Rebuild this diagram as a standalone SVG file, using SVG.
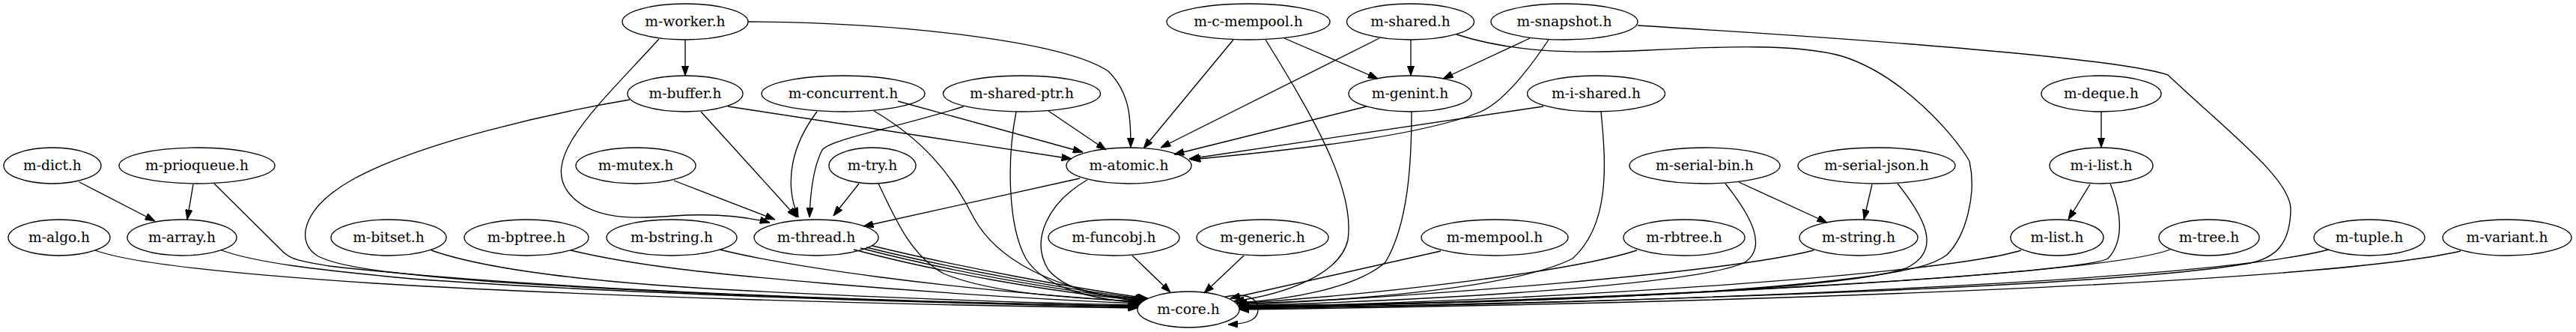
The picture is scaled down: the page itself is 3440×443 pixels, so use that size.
<svg xmlns="http://www.w3.org/2000/svg" width="3440" height="443" viewBox="0 0 3440 443">
<style>
.n ellipse{fill:none;stroke:#000;stroke-width:1.33}
.n text{font-family:"DejaVu Serif","Liberation Serif",serif;font-size:18.67px;text-anchor:middle;fill:#000}
#edges path{fill:none;stroke:#000;stroke-width:1.33;marker-end:url(#ah)}
</style>
<defs>
<marker id="ah" viewBox="0 0 13.33 9.33" markerWidth="13.33" markerHeight="9.33" markerUnits="userSpaceOnUse" refX="13.33" refY="4.67" orient="auto">
<path d="M0,0 L13.33,4.67 L0,9.33 Z" fill="#000" stroke="#000" stroke-width="1"/>
</marker>
</defs>
<rect width="3440" height="443" fill="#fff"/>
<g id="edges">
<path d="M127,334 C170,350 300,365 500,378 C800,396 1200,407 1519,411"/>
<path d="M296,334 C340,350 420,360 550,372 C800,390 1200,404 1519,410"/>
<path d="M286,245 L378,336 C390,348 410,350 440,355 C700,385 1100,400 1520,409"/>
<path d="M841,133 C740,150 560,190 470,240 C400,280 395,325 425,342 C460,360 560,368 660,376 C1000,398 1300,405 1520,408"/>
<path d="M576,334 C650,360 800,378 1000,388 C1200,398 1400,405 1521,407"/>
<path d="M762,334 C850,355 950,365 1100,378 C1300,395 1450,402 1522,405"/>
<path d="M961,333 C1050,355 1250,385 1524,403"/>
<path d="M1140,333 C1250,362 1400,390 1527,401"/>
<path d="M1149,331 C1260,360 1410,388 1529,400"/>
<path d="M1157,330 C1270,358 1420,386 1530,399"/>
<path d="M1165,328 C1280,356 1430,384 1532,398"/>
<path d="M1173,245 C1195,290 1215,340 1260,365 C1320,390 1420,398 1526,402"/>
<path d="M1167,148 C1230,185 1270,230 1300,290 C1330,345 1400,385 1525,403"/>
<path d="M1357,149 C1345,210 1345,300 1370,345 C1395,385 1460,400 1524,404"/>
<path d="M1452,240 C1400,270 1375,320 1400,360 C1425,390 1480,398 1533,398"/>
<path d="M1924,335 L1643,398"/>
<path d="M2186,334 C2100,362 1850,392 1652,405"/>
<path d="M2422,334 C2300,365 1900,395 1654,407"/>
<path d="M2304,245 C2340,290 2360,330 2330,350 C2280,375 2000,398 1654,408"/>
<path d="M2534,245 C2570,290 2595,335 2545,358 C2450,390 2000,405 1655,409"/>
<path d="M1945,46 C2020,70 2100,72 2200,67 C2300,62 2400,58 2460,75 C2540,100 2610,180 2630,215 C2640,260 2625,315 2600,340 C2580,355 2550,360 2500,368 C2300,395 2000,405 1654,408"/>
<path d="M2187,34 C2450,50 2820,75 2895,100 C2980,180 3060,240 3059,280 C3058,325 3040,345 3000,352 C2800,385 2100,405 1655,411"/>
<path d="M2818,245 C2832,280 2838,320 2815,345 C2780,365 2200,400 1655,410"/>
<path d="M2699,334 C2600,365 2100,400 1655,410"/>
<path d="M2898,333 C2800,370 2100,403 1655,411"/>
<path d="M3110,333 C2950,375 2200,405 1655,412"/>
<path d="M3286,335 C3100,378 2300,405 1655,413"/>
<path d="M1885,149 C1885,220 1880,300 1850,350 C1810,385 1720,400 1651,404"/>
<path d="M2138,149 C2145,220 2150,300 2100,345 C2020,385 1800,402 1652,405"/>
<path d="M1690,53 C1750,150 1810,250 1800,320 C1790,365 1720,392 1648,402"/>
<path d="M1647,53 L1527,198"/>
<path d="M1715,51 L1840,105"/>
<path d="M1884,53 L1884,101"/>
<path d="M1842,51 L1550,197"/>
<path d="M2043,51 L1927,105"/>
<path d="M2068,53 C2030,110 2000,140 1975,150 C1900,180 1750,198 1590,213"/>
<path d="M2061,142 L1588,212"/>
<path d="M1825,142 L1568,206"/>
<path d="M999,29 C1200,30 1420,55 1480,95 C1510,125 1510,160 1510,197"/>
<path d="M915,53 L915,101"/>
<path d="M880,52 C800,140 720,210 760,258 C790,295 850,292 900,288 C960,284 1000,290 1028,297"/>
<path d="M936,149 L1064,290"/>
<path d="M972,142 L1431,212"/>
<path d="M1091,149 C1060,190 1045,240 1066,290"/>
<path d="M1199,135 L1446,203"/>
<path d="M1287,142 C1200,170 1110,185 1098,200 C1085,225 1082,260 1081,290"/>
<path d="M1400,148 L1477,200"/>
<path d="M900,241 L1035,293"/>
<path d="M1147,245 L1113,288"/>
<path d="M1442,238 L1153,302"/>
<path d="M1512,341 L1563,390"/>
<path d="M1661,341 L1608,391"/>
<path d="M106,243 L207,295"/>
<path d="M258,246 L250,293"/>
<path d="M2322,243 L2440,297"/>
<path d="M2500,246 L2489,293"/>
<path d="M2806,149 L2806,197"/>
<path d="M2791,246 L2762,293"/>
<path d="M1636,396 C1665,390 1680,398 1680,413 C1680,426 1668,432 1640,433"/>
</g>
<g id="m-worker" class="n"><ellipse cx="915" cy="29" rx="84" ry="24"/><text x="915" y="35">m-worker.h</text></g>
<g id="m-c-mempool" class="n"><ellipse cx="1667" cy="29" rx="109" ry="24"/><text x="1667" y="35">m-c-mempool.h</text></g>
<g id="m-shared" class="n"><ellipse cx="1883.5" cy="29" rx="85" ry="24"/><text x="1883.5" y="35">m-shared.h</text></g>
<g id="m-snapshot" class="n"><ellipse cx="2089" cy="29" rx="98" ry="24"/><text x="2089" y="35">m-snapshot.h</text></g>
<g id="m-buffer" class="n"><ellipse cx="915" cy="125" rx="77" ry="24"/><text x="915" y="131">m-buffer.h</text></g>
<g id="m-concurrent" class="n"><ellipse cx="1126" cy="125" rx="109" ry="24"/><text x="1126" y="131">m-concurrent.h</text></g>
<g id="m-shared-ptr" class="n"><ellipse cx="1364.5" cy="125" rx="105" ry="24"/><text x="1364.5" y="131">m-shared-ptr.h</text></g>
<g id="m-genint" class="n"><ellipse cx="1883" cy="125" rx="82" ry="24"/><text x="1883" y="131">m-genint.h</text></g>
<g id="m-i-shared" class="n"><ellipse cx="2131.5" cy="125" rx="92" ry="24"/><text x="2131.5" y="131">m-i-shared.h</text></g>
<g id="m-deque" class="n"><ellipse cx="2806" cy="125" rx="80" ry="24"/><text x="2806" y="131">m-deque.h</text></g>
<g id="m-dict" class="n"><ellipse cx="70" cy="221" rx="65" ry="24"/><text x="70" y="227">m-dict.h</text></g>
<g id="m-prioqueue" class="n"><ellipse cx="263" cy="221" rx="104" ry="24"/><text x="263" y="227">m-prioqueue.h</text></g>
<g id="m-mutex" class="n"><ellipse cx="849" cy="221" rx="80" ry="24"/><text x="849" y="227">m-mutex.h</text></g>
<g id="m-try" class="n"><ellipse cx="1165" cy="221" rx="58" ry="24"/><text x="1165" y="227">m-try.h</text></g>
<g id="m-atomic" class="n"><ellipse cx="1507.5" cy="221" rx="83.5" ry="24"/><text x="1507.5" y="227">m-atomic.h</text></g>
<g id="m-serial-bin" class="n"><ellipse cx="2276.5" cy="221" rx="100.5" ry="24"/><text x="2276.5" y="227">m-serial-bin.h</text></g>
<g id="m-serial-json" class="n"><ellipse cx="2506" cy="221" rx="105" ry="24"/><text x="2506" y="227">m-serial-json.h</text></g>
<g id="m-i-list" class="n"><ellipse cx="2806" cy="221" rx="69" ry="24"/><text x="2806" y="227">m-i-list.h</text></g>
<g id="m-algo" class="n"><ellipse cx="79" cy="317" rx="68" ry="24"/><text x="79" y="323">m-algo.h</text></g>
<g id="m-array" class="n"><ellipse cx="243" cy="317" rx="73" ry="24"/><text x="243" y="323">m-array.h</text></g>
<g id="m-bitset" class="n"><ellipse cx="519" cy="317" rx="77" ry="24"/><text x="519" y="323">m-bitset.h</text></g>
<g id="m-bptree" class="n"><ellipse cx="703" cy="317" rx="83" ry="24"/><text x="703" y="323">m-bptree.h</text></g>
<g id="m-bstring" class="n"><ellipse cx="897" cy="317" rx="87" ry="24"/><text x="897" y="323">m-bstring.h</text></g>
<g id="m-thread" class="n"><ellipse cx="1090" cy="317" rx="83" ry="24"/><text x="1090" y="323">m-thread.h</text></g>
<g id="m-funcobj" class="n"><ellipse cx="1487.5" cy="317" rx="87.5" ry="24"/><text x="1487.5" y="323">m-funcobj.h</text></g>
<g id="m-generic" class="n"><ellipse cx="1686" cy="317" rx="88" ry="24"/><text x="1686" y="323">m-generic.h</text></g>
<g id="m-mempool" class="n"><ellipse cx="1996" cy="317" rx="98" ry="24"/><text x="1996" y="323">m-mempool.h</text></g>
<g id="m-rbtree" class="n"><ellipse cx="2249" cy="317" rx="81" ry="24"/><text x="2249" y="323">m-rbtree.h</text></g>
<g id="m-string" class="n"><ellipse cx="2482" cy="317" rx="79" ry="24"/><text x="2482" y="323">m-string.h</text></g>
<g id="m-list" class="n"><ellipse cx="2747" cy="317" rx="62" ry="24"/><text x="2747" y="323">m-list.h</text></g>
<g id="m-tree" class="n"><ellipse cx="2950" cy="317" rx="67" ry="24"/><text x="2950" y="323">m-tree.h</text></g>
<g id="m-tuple" class="n"><ellipse cx="3164" cy="317" rx="74" ry="24"/><text x="3164" y="323">m-tuple.h</text></g>
<g id="m-variant" class="n"><ellipse cx="3348" cy="317" rx="86" ry="24"/><text x="3348" y="323">m-variant.h</text></g>
<g id="m-core" class="n"><ellipse cx="1587" cy="413" rx="68" ry="24"/><text x="1587" y="419">m-core.h</text></g>
</svg>
